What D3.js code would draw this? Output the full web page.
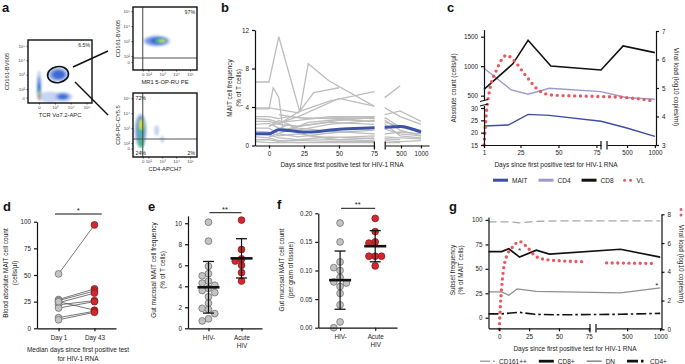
<!DOCTYPE html>
<html>
<head>
<meta charset="utf-8">
<script src="https://cdn.jsdelivr.net/npm/d3@7"></script>
<style>
  body { margin: 0; background: #fff; }
  svg { display: block; }
</style>
</head>
<body>
<svg width="685" height="364"></svg>
<script>
var svg = d3.select("svg");
var FONT = "Liberation Sans, Arial, Helvetica, sans-serif";
var INT = d3.format("d");

// ---------- panel b : MAIT frequency per subject ----------
var bGray = [
  [[-10,6.6],[0,6.6],[7,11.3],[22,3.5],[28,8.5],[43,6.7],[75,4.1],[100,3.9],[480,3.0],[1000,2.2]],
  [[-10,3.8],[0,3.8],[3,6.0],[7,5.0],[10,1.6],[21,2.0],[50,2.6],[75,2.9],[100,3.2],[480,3.6],[1000,2.5]],
  [[-10,3.9],[0,3.9],[21,3.4],[32,5.5],[50,6.0]],
  [[7,2.2],[21,3.5],[43,4.6],[75,5.6],[100,5.0],[480,6.2]],
  [[0,2.0],[21,3.0],[50,4.9],[75,4.1]],
  [[-10,3.0],[0,3.0],[7,2.8],[14,3.0],[28,2.8],[50,2.9],[75,2.8],[100,2.6],[480,1.6],[1000,1.0]],
  [[-10,2.8],[0,2.7],[7,2.4],[21,2.6],[43,3.0],[75,3.0],[100,2.9],[480,1.9],[1000,1.4]],
  [[-10,2.5],[0,2.5],[7,2.2],[21,2.0],[43,2.4],[75,2.2]],
  [[-10,2.2],[0,2.3],[7,1.8],[21,1.6],[43,2.2],[75,2.6],[100,2.2],[480,1.0],[1000,0.8]],
  [[-10,1.8],[0,1.8],[7,1.2],[21,0.9],[43,1.3],[75,1.6],[100,1.7],[480,1.2],[1000,1.0]],
  [[-10,1.5],[0,1.4],[7,1.0],[21,1.2],[43,0.8],[75,1.0],[100,0.9],[480,0.8],[1000,0.7]],
  [[-10,1.2],[0,1.1],[7,0.8],[21,0.6],[43,0.9],[75,0.7],[100,0.7],[480,0.6]],
  [[-10,0.9],[0,0.8],[7,0.5],[21,0.5],[43,0.6],[75,0.5],[100,0.5],[480,0.4],[1000,0.5]],
  [[-10,0.6],[0,0.6],[7,0.4],[21,0.3],[43,0.4],[75,0.4]],
  [[-10,0.4],[0,0.3],[14,0.3],[43,0.3],[75,0.3],[100,0.3],[480,0.3]],
  [[0,2.0],[7,2.6],[21,1.8],[43,1.5],[75,1.2],[100,1.2],[480,1.4],[1000,1.2]],
  [[3,1.5],[14,2.2],[28,1.0],[50,0.6],[75,0.8]],
  [[0,0.9],[14,1.6],[28,2.4],[50,2.7],[75,2.5],[100,2.4],[480,2.0],[1000,1.6]],
  [[7,3.2],[21,2.9],[43,2.8],[75,2.9],[100,2.8]]
];
var bMean = [[-10,1.21],[0,1.21],[7,1.63],[14,1.55],[28,1.4],[50,1.7],[75,1.85],[100,1.9],[480,1.97],[1000,1.38]];
var bYTicks = [0, 4, 8, 12];
var bXTicks1 = [0, 25, 50, 75], bXTicks2 = [500, 1000];

// ---------- panel c : absolute counts and viral load ----------
var cMAIT = [[1,22.7],[17,23.1],[30,27.4],[44,27.0],[78,24.6],[480,22],[1000,18.5]];
var cCD4 = [[1,964],[19,597],[30,524],[44,625],[78,568],[480,470],[1000,440]];
var cCD8 = [[1,608],[20,1040],[30,1440],[45,1003],[78,935],[430,1342],[1000,1230]];
var cVL = [[1,3.0],[2.7,4.2],[5,5.0],[9,5.6],[16,6.15],[20,6.0],[29,5.4],[37,4.92],[46,4.75],[78,4.7],[500,4.66],[1000,4.54]];
var cLegend = ["MAIT", "CD4", "CD8", "VL"];

// ---------- panel d : paired blood counts ----------
var dCats = ["Day 1", "Day 43"];
var dDay1 = [51, 27, 26, 24, 22, 19, 25, 10, 8];
var dDay43 = [97, 37, 35, 33, 26, 25, 17, 16, 15];

// ---------- panels e, f : gut mucosa ----------
var efCats = ["HIV-", "Acute\nHIV"];
var eNeg = [10.1, 8.3, 5.9, 5.2, 5.0, 4.5, 4.3, 4.1, 3.8, 3.6, 3.4, 3.0, 2.4, 1.9, 1.8, 1.4, 0.9, 0.7];
var eAcute = [10.3, 7.5, 6.6, 6.4, 6.0, 5.3, 4.5];
var fNeg = [0.183, 0.150, 0.115, 0.105, 0.100, 0.088, 0.080, 0.078, 0.072, 0.060, 0.040, 0.010, 0.0];
var fAcute = [0.191, 0.168, 0.150, 0.148, 0.125, 0.125, 0.125, 0.108];

// ---------- panel g : MAIT subsets ----------
var gCD161 = [[-9,98],[8,98],[17,97],[30,98.5],[50,99],[400,99],[1000,99]];
var gCD8 = [[-9,67.7],[2,67.7],[8,70.5],[17,62],[31,69],[42,65],[400,70],[1000,62]];
var gDN = [[-9,26.4],[2,26.4],[8,23],[15,29.5],[31,27],[400,25.5],[1000,30.5]];
var gCD4 = [[-9,4],[2,4],[17,5.5],[30,3.5],[50,3],[400,3.5],[1000,4.5]];
var gVLa = [[0,0],[1,1.7],[2,2.9],[3.3,4.0],[6,5.05],[10,5.6],[17,6.1],[23,5.75],[31,5.05],[42,4.82],[72,4.7]];
var gVLb = [[190,4.62],[950,4.58]];
var gLegend = ["CD161++", "CD8+", "DN", "CD4+"];

// ---------- panel a : flow cytometry density blobs [x, y, spreadX, spreadY, level] ----------
var aMainBlobs = [
  [0.7,0.05,0.75,0.38,0],[0.0,0.85,0.17,1.05,0],[0.0,0.65,0.12,0.85,1],[0.0,0.45,0.09,0.6,2],
  [0.0,0.25,0.08,0.4,3],[0.0,0.15,0.07,0.24,4],[0.0,0.1,0.05,0.13,5],
  [1.2,1.6,0.68,0.52,0],[1.2,1.6,0.52,0.4,1],[1.25,1.6,0.38,0.28,2],
  [1.5,0.05,0.62,0.34,0],[1.5,0.08,0.42,0.24,1],[1.5,0.05,0.26,0.15,2]
];
var aTopBlobs = [
  [1.0,1.4,1.0,0.38,0],[1.0,1.4,0.82,0.3,1],[1.15,1.42,0.6,0.23,2],
  [1.3,1.42,0.42,0.17,3],[1.4,1.42,0.22,0.1,4]
];
var aBotBlobs = [
  [1.0,1.2,0.18,0.35,0],[1.4,0.6,0.14,0.24,0],
  [-0.15,1.2,0.45,1.15,0],[-0.15,1.2,0.36,0.98,1],[-0.12,0.45,0.25,0.4,3],
  [-0.1,1.45,0.27,0.6,3],[-0.1,1.6,0.17,0.35,4]
];
var flowColors = ["#b9c9ef", "#6f93e2", "#3a66d2", "#47b98e", "#d9dc4c", "#e2512f"];
var flowTicksA = [0, 1, 2, 3], flowLabA = ["0", "10³", "10⁴", "10⁵"];
var flowTicksB = [0, 0.6, 1.6, 2.6, 3.6], flowLabB = ["0", "10²", "10³", "10⁴", "10⁵"];
var flowTicksC = [0, 0.4, 1.4, 2.4, 3.4], flowLabC = ["0", "10²", "10³", "10⁴", "10⁵"];
var flowTicksD = [0, 0.35, 1.35, 2.35, 3.35];

var defs = svg.append("defs");
defs.append("filter").attr("id", "blur").attr("x", "-50%").attr("y", "-50%").attr("width", "200%").attr("height", "200%")
  .append("feGaussianBlur").attr("stdDeviation", 1.0);

// ---------- helpers ----------
function label(x, y, s, o) {
  o = o || {};
  var t = svg.append("text").attr("x", x).attr("y", y).text(s)
    .attr("font-size", o.fs || 6.5).attr("font-family", FONT)
    .attr("text-anchor", o.anchor || "middle").attr("fill", o.fill || "#222");
  if (o.bold) t.attr("font-weight", "bold");
  return t;
}
function vlabel(x, y, s, rot, fs) {
  return svg.append("text").attr("transform", "translate(" + x + "," + y + ") rotate(" + rot + ")")
    .attr("text-anchor", "middle").attr("font-size", fs || 6.5).attr("font-family", FONT)
    .attr("fill", "#222").text(s);
}
function styleAxis(g, fs) {
  g.attr("font-size", fs || 6.3).attr("font-family", FONT);
  g.selectAll("path, line").attr("stroke", "#111").attr("stroke-width", 1.2);
  g.selectAll("text").attr("fill", "#222");
  return g;
}
function addAxis(axis, tx, ty) {
  var g = svg.append("g").attr("transform", "translate(" + tx + "," + ty + ")").call(axis);
  return styleAxis(g);
}
function wrapTicks(g) {
  g.selectAll(".tick text").each(function(d) {
    var parts = String(d).split("\n"), t = d3.select(this);
    if (parts.length < 2) return;
    t.text(null);
    parts.forEach(function(p, i) {
      t.append("tspan").attr("x", 0).attr("dy", i ? "1.25em" : "0.71em").text(p);
    });
  });
}
function seg(x1, y1, x2, y2, w, c) {
  return svg.append("line").attr("x1", x1).attr("y1", y1).attr("x2", x2).attr("y2", y2)
    .attr("stroke", c || "#111").attr("stroke-width", w || 1.2);
}
function legend(items, x, y) {
  var cx = x;
  items.forEach(function(it) {
    var sw = it.w || 15;
    svg.append("line").attr("x1", cx).attr("x2", cx + sw).attr("y1", y - 2.3).attr("y2", y - 2.3)
      .attr("stroke", it.color).attr("stroke-width", it.width)
      .attr("stroke-dasharray", it.dash || null).attr("stroke-linecap", it.cap || "butt");
    var t = label(cx + sw + 4, y, it.name, { anchor: "start" });
    cx += sw + 4 + t.node().getComputedTextLength() + (it.gap || 11);
  });
}
// beeswarm-style offsets so dots do not overlap
function dodge(vals, y, r) {
  var placed = [];
  return vals.map(function(v) {
    var py = y(v), steps = [0, -1, 1, -2, 2, -3, 3];
    for (var k = 0; k < steps.length; k++) {
      var ox = steps[k] * r * 1.85;
      var free = placed.every(function(p) { return Math.hypot(p[0] - ox, p[1] - py) >= r * 1.85; });
      if (free) { placed.push([ox, py]); return ox; }
    }
    placed.push([0, py]);
    return 0;
  });
}
var GRAYPT = "#c3c3c3", REDPT = "#d3262d";

// ---------- panel letters ----------
[["a",2,11.5],["b",221,11.5],["c",447,12],["d",3,211],["e",148,211],["f",277,209],["g",449,211]].forEach(function(l) {
  label(l[1], l[2], l[0], { fs: 13, bold: true, anchor: "start", fill: "#111" });
});

// ---------- panel a ----------
function flowPlot(cfg) {
  var x = d3.scaleLinear().domain(cfg.xd).range([cfg.x0, cfg.x1]);
  var y = d3.scaleLinear().domain(cfg.yd).range([cfg.y1, cfg.y0]);
  defs.append("clipPath").attr("id", "clip" + cfg.id).append("rect")
    .attr("x", cfg.x0).attr("y", cfg.y0).attr("width", cfg.x1 - cfg.x0).attr("height", cfg.y1 - cfg.y0);
  svg.append("g").attr("clip-path", "url(#clip" + cfg.id + ")")
    .append("g").attr("filter", "url(#blur)")
    .selectAll("ellipse").data(cfg.blobs).join("ellipse")
    .attr("cx", function(d) { return x(d[0]); })
    .attr("cy", function(d) { return y(d[1]); })
    .attr("rx", function(d) { return x(d[2]) - x(0); })
    .attr("ry", function(d) { return y(0) - y(d[3]); })
    .attr("fill", function(d) { return flowColors[d[4]]; })
    .attr("opacity", function(d) { return d[4] === 0 ? 0.8 : 0.95; });
  if (cfg.gateX !== undefined) {
    seg(x(cfg.gateX), cfg.y0, x(cfg.gateX), cfg.y1, 1.1, "#555");
    seg(cfg.x0, y(cfg.gateY), cfg.x1, y(cfg.gateY), 1.1, "#555");
  }
  svg.append("rect").attr("x", cfg.x0).attr("y", cfg.y0)
    .attr("width", cfg.x1 - cfg.x0).attr("height", cfg.y1 - cfg.y0)
    .attr("fill", "none").attr("stroke", "#111").attr("stroke-width", 1.4);
  var ax = d3.axisBottom(x).tickValues(cfg.xt).tickSize(1.5).tickPadding(1.5)
    .tickFormat(function(d, i) { return cfg.xl[i]; });
  var ay = d3.axisLeft(y).tickValues(cfg.yt).tickSize(1.5).tickPadding(1.5)
    .tickFormat(function(d, i) { return cfg.yl[i]; });
  [["b", ax, 0, cfg.y1], ["l", ay, cfg.x0, 0]].forEach(function(a) {
    var g = svg.append("g").attr("transform", "translate(" + a[2] + "," + a[3] + ")").call(a[1]);
    g.attr("font-size", 4.3).attr("font-family", FONT);
    g.select(".domain").remove();
    g.selectAll("line").attr("stroke", "#111").attr("stroke-width", 0.7);
    g.selectAll("text").attr("fill", "#444");
  });
  label((cfg.x0 + cfg.x1) / 2, cfg.y1 + 14, cfg.xlab, { fs: 5.8 });
  vlabel(cfg.x0 - cfg.yoff, (cfg.y0 + cfg.y1) / 2, cfg.ylab, -90, 5.8);
  return { x: x, y: y };
}
var fMain = flowPlot({ id: 1, x0: 28, x1: 92, y0: 40, y1: 103, xd: [-0.7, 3.35], yd: [-0.37, 4.0],
  blobs: aMainBlobs, xt: flowTicksA, xl: flowLabA, yt: flowTicksB, yl: flowLabB, yoff: 19,
  xlab: "TCR Vα7.2-APC", ylab: "CD161-BV605" });
flowPlot({ id: 2, x0: 133, x1: 197, y0: 7, y1: 70, xd: [-0.7, 3.9], yd: [-0.53, 3.67],
  blobs: aTopBlobs, xt: flowTicksC, xl: flowLabC, yt: flowTicksC, yl: flowLabC, yoff: 13.5,
  gateX: 0, gateY: 0.27, xlab: "MR1 5-OP-RU PE", ylab: "CD161-BV605" });
flowPlot({ id: 3, x0: 133, x1: 197, y0: 93, y1: 157, xd: [-0.7, 3.9], yd: [-0.57, 3.7],
  blobs: aBotBlobs, xt: flowTicksC, xl: flowLabC, yt: flowTicksD, yl: flowLabC, yoff: 13.5,
  gateX: 0, gateY: 0.63, xlab: "CD4-APCH7", ylab: "CD8-PC-CY5.5" });
// gate on the main plot
svg.append("ellipse").attr("cx", fMain.x(1.2)).attr("cy", fMain.y(1.6)).attr("rx", 10.5).attr("ry", 8)
  .attr("transform", "rotate(-10," + fMain.x(1.2) + "," + fMain.y(1.6) + ")")
  .attr("fill", "none").attr("stroke", "#111").attr("stroke-width", 1.6);
seg(73, 67, 108, 51, 1.5);
seg(75, 82, 108, 115, 1.5);
label(90, 47, "6.5%", { fs: 5.2, anchor: "end" });
label(195, 14, "97%", { fs: 5.2, anchor: "end" });
label(135.5, 100, "72%", { fs: 5.2, anchor: "start" });
label(135.5, 155, "24%", { fs: 5.2, anchor: "start" });
label(195, 155, "2%", { fs: 5.2, anchor: "end" });

// ---------- panel b ----------
(function() {
  var y = d3.scaleLinear().domain([0, 12]).range([145.5, 30]);
  var x1 = d3.scaleLinear().domain([-10, 75]).range([255, 374]);
  var x2 = d3.scaleLinear().domain([100, 1200]).range([385, 429]);
  var xx = function(d) { return d <= 75 ? x1(d) : x2(d); };
  var line = d3.line().x(function(d) { return xx(d[0]); }).y(function(d) { return y(d[1]); });
  svg.append("g").selectAll("path").data(bGray).join("path")
    .attr("d", line).attr("fill", "none").attr("stroke", "#bdbdbd").attr("stroke-width", 1.3);
  svg.append("path").datum(bMean)
    .attr("d", line.curve(d3.curveMonotoneX)).attr("fill", "none")
    .attr("stroke", "#3b53a6").attr("stroke-width", 3);
  svg.append("rect").attr("x", 374.6).attr("y", 20).attr("width", 10).attr("height", 124).attr("fill", "#fff");
  addAxis(d3.axisLeft(y).tickValues(bYTicks).tickFormat(INT).tickSize(3).tickSizeOuter(0), 255, 0);
  addAxis(d3.axisBottom(x1).tickValues(bXTicks1).tickFormat(INT).tickSize(3).tickSizeOuter(0), 0, 145.5);
  addAxis(d3.axisBottom(x2).tickValues(bXTicks2).tickFormat(INT).tickSize(3).tickSizeOuter(0), 0, 145.5);
  seg(374.4, 141.5, 374.4, 149.5);
  seg(385.2, 141.5, 385.2, 149.5);
  vlabel(232, 88, "MAIT cell frequency", -90);
  vlabel(241, 88, "(% of T cells)", -90);
  label(342, 167, "Days since first positive test for HIV-1 RNA");
})();

// ---------- panel c ----------
(function() {
  var x1 = d3.scaleLinear().domain([1, 78]).range([484, 601]);
  var x2 = d3.scaleLinear().domain([140, 1020]).range([607, 656]);
  var xx = function(d) { return d <= 78 ? x1(d) : x2(d); };
  var yLo = d3.scaleLinear().domain([15, 31]).range([145, 105.5]);
  var yHi = d3.scaleLinear().domain([430, 1620]).range([99.8, 29.6]);
  var yR = d3.scaleLinear().domain([3, 7.01]).range([145, 30.7]);
  function draw(data, ys, color, w) {
    return svg.append("path").datum(data)
      .attr("d", d3.line().x(function(d) { return xx(d[0]); }).y(function(d) { return ys(d[1]); }))
      .attr("fill", "none").attr("stroke", color).attr("stroke-width", w);
  }
  draw(cCD4, yHi, "#9d9acb", 1.4);
  draw(cMAIT, yLo, "#3b4fa3", 1.4);
  draw(cCD8, yHi, "#111", 1.6);
  svg.append("path").datum(cVL)
    .attr("d", d3.line().curve(d3.curveMonotoneX).x(function(d) { return xx(d[0]); }).y(function(d) { return yR(d[1]); }))
    .attr("fill", "none").attr("stroke", "#e8595f").attr("stroke-width", 3.4)
    .attr("stroke-dasharray", "0,5.8").attr("stroke-linecap", "round");
  addAxis(d3.axisLeft(yLo).tickValues([15, 20, 25, 30]).tickFormat(INT).tickSize(3).tickSizeOuter(0), 484, 0);
  addAxis(d3.axisLeft(yHi).tickValues([500, 1000, 1500]).tickFormat(INT).tickSize(3).tickSizeOuter(0), 484, 0);
  addAxis(d3.axisRight(yR).tickValues([3, 4, 5, 6, 7]).tickFormat(INT).tickSize(3).tickSizeOuter(0), 656, 0);
  addAxis(d3.axisBottom(x1).tickValues([1, 25, 50, 75]).tickFormat(INT).tickSize(3).tickSizeOuter(0), 0, 145);
  addAxis(d3.axisBottom(x2).tickValues([500, 1000]).tickFormat(INT).tickSize(3).tickSizeOuter(0), 0, 145);
  seg(480, 101.5, 488, 99.5);
  seg(480, 106, 488, 104);
  seg(601, 141, 601, 149.5);
  seg(607, 141, 607, 149.5);
  vlabel(455.5, 88, "Absolute count (cells/µl)", -90);
  vlabel(673.5, 87, "Viral load (log10 copies/ml)", 90);
  label(556, 167, "Days since first positive test for HIV-1 RNA");
  var sty = {
    MAIT: { color: "#3b4fa3", width: 3 }, CD4: { color: "#9d9acb", width: 3 },
    CD8: { color: "#111", width: 3 }, VL: { color: "#e8595f", width: 3, dash: "0,6", cap: "round", w: 8 }
  };
  legend(cLegend.map(function(k) { return Object.assign({ name: k }, sty[k]); }), 493, 182.5);
})();

// ---------- panel d ----------
(function() {
  var y = d3.scaleLinear().domain([0, 100]).range([328.3, 221.7]);
  var x = d3.scalePoint().domain(dCats).range([37, 116]).padding(0.6);
  svg.append("g").selectAll("line").data(dDay1).join("line")
    .attr("x1", x(dCats[0])).attr("x2", x(dCats[1]))
    .attr("y1", function(d) { return y(d); })
    .attr("y2", function(d, i) { return y(dDay43[i]); })
    .attr("stroke", "#555").attr("stroke-width", 0.8);
  svg.append("g").selectAll("circle").data(dDay1).join("circle")
    .attr("cx", x(dCats[0])).attr("cy", function(d) { return y(d); }).attr("r", 3.4)
    .attr("fill", GRAYPT).attr("stroke", "#666").attr("stroke-width", 0.7);
  svg.append("g").selectAll("circle").data(dDay43).join("circle")
    .attr("cx", x(dCats[1])).attr("cy", function(d) { return y(d); }).attr("r", 3.4)
    .attr("fill", REDPT).attr("stroke", "#7a1a1a").attr("stroke-width", 0.7);
  addAxis(d3.axisLeft(y).tickValues([0, 25, 50, 75, 100]).tickFormat(INT).tickSize(3).tickSizeOuter(0), 37, 0);
  addAxis(d3.axisBottom(x).tickSize(3).tickSizeOuter(0).tickPadding(4), 0, 328.3);
  seg(55, 214, 101.7, 214, 1);
  label(78.3, 213, "*", { fs: 8 });
  vlabel(8, 273, "Blood absolute MAIT cell count", -90);
  vlabel(17, 273, "(cells/µl)", -90);
  label(78, 352, "Median days since first positive test");
  label(78, 361, "for HIV-1 RNA");
})();

// ---------- panels e and f ----------
function dotPanel(cfg) {
  var y = d3.scaleLinear().domain(cfg.yd).range([cfg.yb, cfg.yt]);
  var x = d3.scalePoint().domain(efCats).range([cfg.x0, cfg.x1]).padding(cfg.pad);
  [[cfg.neg, GRAYPT, "#666"], [cfg.acute, REDPT, "#7a1a1a"]].forEach(function(grp, gi) {
    var vals = grp[0], cx = x(efCats[gi]);
    var offs = dodge(vals, y, 3.4);
    var m = d3.mean(vals), sd = d3.deviation(vals);
    svg.append("g").selectAll("circle").data(vals).join("circle")
      .attr("cx", function(d, i) { return cx + offs[i]; }).attr("cy", function(d) { return y(d); })
      .attr("r", 3.4).attr("fill", grp[1]).attr("stroke", grp[2]).attr("stroke-width", 0.7);
    seg(cx, y(m - sd), cx, y(m + sd), 1.2);
    seg(cx - 5.5, y(m + sd), cx + 5.5, y(m + sd), 1.3);
    seg(cx - 5.5, y(m - sd), cx + 5.5, y(m - sd), 1.3);
    seg(cx - 11, y(m), cx + 11, y(m), 2.6);
  });
  addAxis(d3.axisLeft(y).tickValues(cfg.ticks).tickFormat(cfg.fmt).tickSize(3).tickSizeOuter(0), cfg.x0, 0);
  var xa = addAxis(d3.axisBottom(x).tickSize(3).tickSizeOuter(0).tickPadding(4), 0, cfg.yb);
  wrapTicks(xa);
  seg(x(efCats[0]) + 1, cfg.sigY, x(efCats[1]), cfg.sigY, 1);
  label((x(efCats[0]) + x(efCats[1])) / 2, cfg.sigY - 1, "**", { fs: 7.5 });
  vlabel(cfg.lx, 270, cfg.lab1, -90);
  vlabel(cfg.lx + 9, 270, cfg.lab2, -90);
}
dotPanel({ neg: eNeg, acute: eAcute, yd: [0, 10.7], yb: 328.3, yt: 215.9, x0: 188, x1: 262, pad: 0.62,
  ticks: [0, 2, 4, 6, 8, 10], fmt: INT, sigY: 212.7, lx: 156,
  lab1: "Gut mucosal MAIT cell frequency", lab2: "(% of T cells)" });
dotPanel({ neg: fNeg, acute: fAcute, yd: [0, 0.2], yb: 327.7, yt: 213.3, x0: 318.3, x1: 397, pad: 0.62,
  ticks: [0, 0.05, 0.1, 0.15, 0.2], fmt: d3.format(".2f"), sigY: 208.3, lx: 284,
  lab1: "Gut mucosal MAIT cell count", lab2: "(per gram of tissue)" });

// ---------- panel g ----------
(function() {
  var x1 = d3.scaleLinear().domain([-9, 76]).range([488.5, 590]);
  var x2 = d3.scaleLinear().domain([30, 1020]).range([596, 661.5]);
  var xx = function(d) { return d <= 76 ? x1(d) : x2(d); };
  var yL = d3.scaleLinear().domain([-10.8, 103]).range([328.3, 217]);
  var yR = d3.scaleLinear().domain([0, 8]).range([329.3, 214.3]);
  var lineL = d3.line().x(function(d) { return xx(d[0]); }).y(function(d) { return yL(d[1]); });
  var lineR = d3.line().curve(d3.curveMonotoneX).x(function(d) { return xx(d[0]); }).y(function(d) { return yR(d[1]); });
  var sty = {
    "CD161++": { data: gCD161, color: "#a6a6a6", width: 1.3, dash: "8,4" },
    "CD8+": { data: gCD8, color: "#111", width: 1.7 },
    "DN": { data: gDN, color: "#8f8f8f", width: 1.3 },
    "CD4+": { data: gCD4, color: "#111", width: 1.6, dash: "10,3,2.5,3" }
  };
  gLegend.forEach(function(k) {
    var s = sty[k];
    svg.append("path").datum(s.data).attr("d", lineL).attr("fill", "none")
      .attr("stroke", s.color).attr("stroke-width", s.width).attr("stroke-dasharray", s.dash || null);
  });
  [gVLa, gVLb].forEach(function(part) {
    svg.append("path").datum(part).attr("d", lineR).attr("fill", "none")
      .attr("stroke", "#e8595f").attr("stroke-width", 3.4)
      .attr("stroke-dasharray", "0,5.6").attr("stroke-linecap", "round");
  });
  addAxis(d3.axisLeft(yL).tickValues([0, 25, 50, 75, 100]).tickFormat(INT).tickSize(3).tickSizeOuter(0), 488.5, 0);
  addAxis(d3.axisRight(yR).tickValues([0, 2, 4, 6, 8]).tickFormat(INT).tickSize(3).tickSizeOuter(0), 661.5, 0);
  addAxis(d3.axisBottom(x1).tickValues([0, 25, 50, 75]).tickFormat(INT).tickSize(3).tickSizeOuter(0), 0, 328.3);
  addAxis(d3.axisBottom(x2).tickValues([500, 1000]).tickFormat(INT).tickSize(3).tickSizeOuter(0), 0, 328.3);
  seg(590, 324, 590, 332.5);
  seg(596, 324, 596, 332.5);
  label(xx(17), yL(70) + 4, "*", { fs: 8 });
  label(xx(950), yL(31) + 1, "*", { fs: 8 });
  vlabel(454.5, 270, "Subset frequency", -90);
  vlabel(463, 270, "(% of MAIT cells)", -90);
  svg.append("line").attr("x1", 681).attr("x2", 681).attr("y1", 209.5).attr("y2", 216)
    .attr("stroke", "#e8595f").attr("stroke-width", 3).attr("stroke-dasharray", "0,5.5").attr("stroke-linecap", "round");
  vlabel(678.5, 264, "Viral load (log10 copies/ml)", 90);
  label(575, 351, "Days since first positive test for HIV-1 RNA");
  legend(gLegend.map(function(k) {
    var s = sty[k];
    return { name: k, color: s.color, width: k === "DN" || k === "CD161++" ? 1.6 : 2.8,
      dash: k === "CD161++" ? "10,3,4,3" : (k === "CD4+" ? "11,3,2.5,3" : null), w: k === "CD4+" ? 19 : 15, gap: 12 };
  }), 480, 363.5);
})();
</script>
</body>
</html>
